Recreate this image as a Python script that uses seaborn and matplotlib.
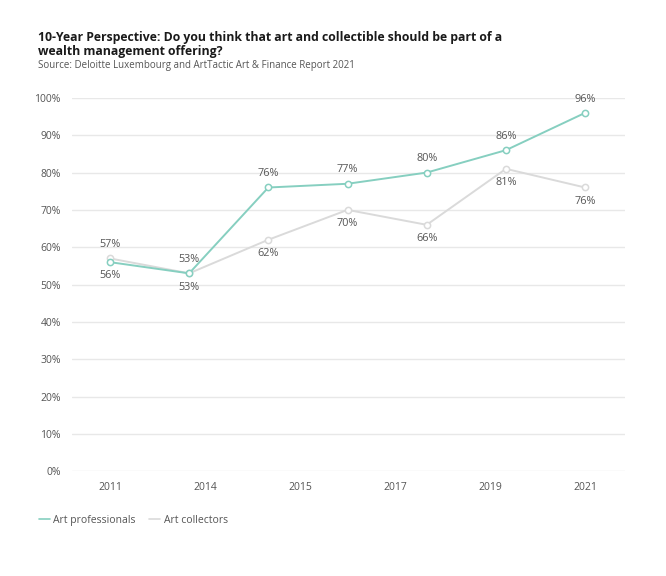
import matplotlib.pyplot as plt
import seaborn as sns
import pandas as pd
import numpy as np
from matplotlib.lines import Line2D

# data
steps = [0, 1, 2, 3, 4, 5, 6]
professionals = [56, 53, 76, 77, 80, 86, 96]
collectors = [57, 53, 62, 70, 66, 81, 76]
year_labels = ['2011', '2014', '2015', '2017', '2019', '2021']
y_ticks = [0, 10, 20, 30, 40, 50, 60, 70, 80, 90, 100]

# label placement: 1 = above, -1 = below
prof_pos = [-1, 1, 1, 1, 1, 1, 1]
coll_pos = [1, -1, -1, -1, -1, -1, -1]

TEAL = '#86cfc0'
GREY = '#dadada'
TEXT = '#555555'

sns.set_theme(style='white')
plt.rcParams['font.family'] = ['Open Sans', 'DejaVu Sans']

df = pd.DataFrame({
    'step': steps * 2,
    'value': professionals + collectors,
    'group': ['Art professionals'] * len(steps) + ['Art collectors'] * len(steps),
})

fig = plt.figure(figsize=(6.66, 5.76), dpi=100)
ax = fig.add_axes([0.108, 0.182, 0.83, 0.648])

sns.lineplot(data=df, x='step', y='value', hue='group',
             palette={'Art professionals': TEAL, 'Art collectors': GREY},
             hue_order=['Art collectors', 'Art professionals'],
             marker='o', markersize=4.5, markerfacecolor='white',
             markeredgewidth=1.1, linewidth=1.4, ax=ax, legend=False)
# open circles: edge takes the line colour
for ln in ax.lines:
    ln.set_markeredgecolor(ln.get_color())

for x, y, p in zip(steps, professionals, prof_pos):
    ax.annotate(f'{y}%', (x, y), xytext=(0, 6 * p), textcoords='offset points',
                ha='center', va='bottom' if p > 0 else 'top', fontsize=7.8, color=TEXT)
for x, y, p in zip(steps, collectors, coll_pos):
    ax.annotate(f'{y}%', (x, y), xytext=(0, 6 * p), textcoords='offset points',
                ha='center', va='bottom' if p > 0 else 'top', fontsize=7.8, color=TEXT)

ax.set_xlim(-0.48, 6.5)
ax.set_ylim(0, 100)
ax.set_yticks(y_ticks)
ax.set_yticklabels([f'{t}%' for t in y_ticks])
ax.set_xticks(np.linspace(0, 6, len(year_labels)))
ax.set_xticklabels(year_labels)
ax.tick_params(axis='both', length=0, labelsize=7.5, labelcolor=TEXT)
ax.tick_params(axis='y', pad=8)
ax.tick_params(axis='x', pad=8)
ax.grid(axis='y', color='#e8e8e8', linewidth=1)
ax.set_axisbelow(True)
for s in ax.spines.values():
    s.set_visible(False)
ax.set_xlabel('')
ax.set_ylabel('')

fig.text(0.057, 0.947, '10-Year Perspective: Do you think that art and collectible should be part of a\n'
         'wealth management offering?', fontsize=8.8, fontweight='bold', color='#1a1a1a',
         va='top', linespacing=1.1)
fig.text(0.057, 0.896, 'Source: Deloitte Luxembourg and ArtTactic Art & Finance Report 2021',
         fontsize=7, color=TEXT, va='top')

# legend
handles = [Line2D([], [], color=TEAL, linewidth=1.2),
           Line2D([], [], color=GREY, linewidth=1.2)]
fig.legend(handles, ['Art professionals', 'Art collectors'], loc='center left',
           bbox_to_anchor=(0.045, 0.097), ncol=2, frameon=False, fontsize=7.5,
           labelcolor=TEXT, handlelength=1.0, handletextpad=0.35, columnspacing=1.3)

fig.savefig('out.png', dpi=100, facecolor='white')
